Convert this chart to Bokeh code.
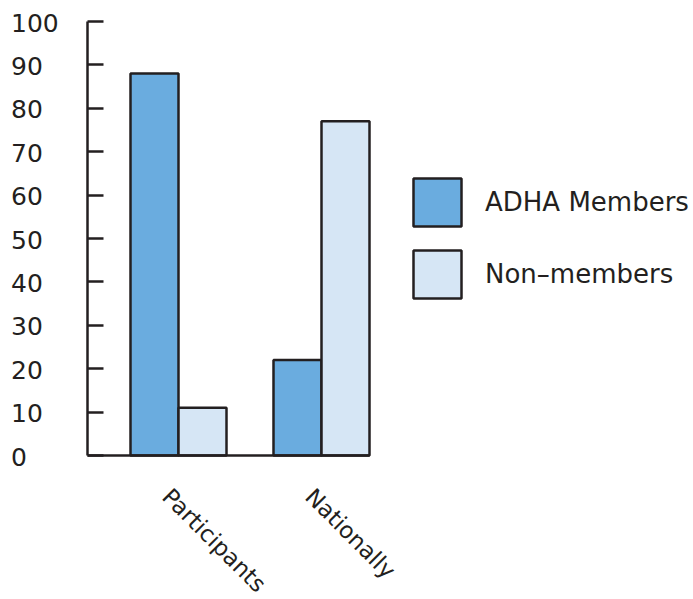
import math
from bokeh.plotting import figure
from bokeh.models import (ColumnDataSource, Range1d, FixedTicker, Legend, LegendItem, Label)
from bokeh.transform import dodge
from bokeh.embed import file_html
from bokeh.resources import INLINE

# ---- data ----
categories = ["Participants", "Nationally"]
adha_members = [88, 22]
non_members = [11, 77]
y_ticks = [0, 10, 20, 30, 40, 50, 60, 70, 80, 90, 100]
series_names = ["ADHA Members", "Non\u2013members"]

# ---- style ----
FONT = "DejaVu Sans"
DARK = "#231f20"
BLUE = "#6aacdf"
LIGHT = "#d6e6f5"
W, H = 693, 599
PX_X = 143.0           # px per category step
X0_PX = 178.0          # px of first category centre
PX_Y = 4.34            # px per y unit
Y0_PX = 455.0          # px of y = 0
BAR_W = 48 / PX_X
X_AXIS_START = (87 - X0_PX) / PX_X
X_AXIS_END = (369 - X0_PX) / PX_X

x_range = Range1d(-X0_PX / PX_X, (W - X0_PX) / PX_X)
y_range = Range1d(-(H - Y0_PX) / PX_Y, Y0_PX / PX_Y)

source = ColumnDataSource(dict(
    idx=list(range(len(categories))),
    cat=categories,
    adha=adha_members,
    non=non_members,
))

p = figure(width=W, height=H, output_backend="svg", toolbar_location=None,
           x_range=x_range, y_range=y_range, min_border=0)
p.outline_line_color = None
p.grid.visible = False
p.background_fill_color = "white"
p.border_fill_color = "white"

r1 = p.vbar(x=dodge("idx", -BAR_W / 2), top="adha", width=BAR_W, bottom=0, source=source,
            fill_color=BLUE, line_color=DARK, line_width=2.5)
r2 = p.vbar(x=dodge("idx", BAR_W / 2), top="non", width=BAR_W, bottom=0, source=source,
            fill_color=LIGHT, line_color=DARK, line_width=2.5)

# y axis
yax = p.yaxis[0]
yax.fixed_location = X_AXIS_START
yax.bounds = (y_ticks[0], y_ticks[-1])
yax.ticker = FixedTicker(ticks=y_ticks)
yax.major_label_overrides = {t: "" for t in y_ticks}
yax.major_tick_in = 16
yax.major_tick_out = 0
yax.minor_tick_line_color = None
yax.axis_line_color = DARK
yax.axis_line_width = 2.5
yax.major_tick_line_color = DARK
yax.major_tick_line_width = 2.5

# x axis
xax = p.xaxis[0]
xax.fixed_location = 0
xax.bounds = (X_AXIS_START, X_AXIS_END)
xax.ticker = FixedTicker(ticks=[])
xax.major_tick_line_color = None
xax.minor_tick_line_color = None
xax.axis_line_color = DARK
xax.axis_line_width = 2.5

# y tick labels (left aligned)
for t in y_ticks:
    p.add_layout(Label(x=X_AXIS_START, y=t, x_offset=-76.5, y_offset=-1, text=str(t),
                       text_font=FONT, text_font_size="25px", text_color=DARK,
                       text_align="left", text_baseline="middle"))

# category labels (rotated)
for i, c in enumerate(categories):
    p.add_layout(Label(x=i, y=0, x_offset=-12, y_offset=-37, text=c,
                       angle=-math.pi / 4, angle_units="rad",
                       text_font=FONT, text_font_size="23px", text_color=DARK,
                       text_align="left", text_baseline="alphabetic"))

legend = Legend(items=[LegendItem(label=series_names[0], renderers=[r1]),
                       LegendItem(label=series_names[1], renderers=[r2])],
                location=(407, H - 304), padding=0, margin=0, spacing=12,
                glyph_width=60, glyph_height=60, label_standoff=18,
                border_line_color=None, background_fill_alpha=0,
                label_text_font=FONT, label_text_font_size="26px", label_text_color=DARK)
p.add_layout(legend)

open("out.html", "w").write(file_html(p, INLINE))
